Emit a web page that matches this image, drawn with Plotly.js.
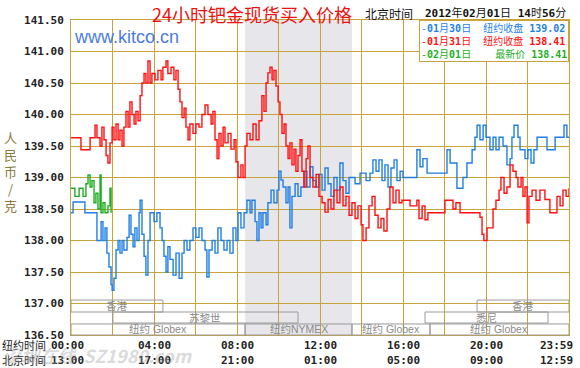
<!DOCTYPE html>
<html><head><meta charset="utf-8">
<script src="https://cdn.plot.ly/plotly-3.0.1.min.js"></script>
<style>html,body{margin:0;padding:0;background:#fff}#chart{width:580px;height:368px}</style>
</head><body><div id="chart"></div>
<script>
// ---------- DATA (hours in New York time, price in CNY/g) ----------
const blueHours = [0,0.10,0.67,1.25,1.45,1.54,1.64,1.73,1.83,1.93,
  1.98,2.07,2.17,2.27,2.36,2.46,2.55,2.70,2.80,2.89,
  2.99,3.08,3.18,3.28,3.33,3.42,3.52,3.61,3.71,3.81,
  4.00,4.14,4.29,4.39,4.48,4.58,4.67,4.77,4.92,5.06,
  5.21,5.35,5.45,5.59,5.73,5.88,6.02,6.17,6.31,6.46,
  6.55,6.65,6.80,6.94,7.08,7.23,7.37,7.52,7.66,7.81,
  7.95,8.05,8.19,8.34,8.48,8.63,8.72,8.87,8.96,9.06,
  9.16,9.25,9.40,9.49,9.64,9.78,9.93,10.02,10.12,10.22,
  10.36,10.46,10.55,10.65,10.80,10.94,11.08,11.23,11.37,11.52,
  11.66,11.81,11.95,12.10,12.24,12.39,12.53,12.67,12.82,12.96,
  13.11,13.25,13.40,13.69,13.93,14.22,14.41,14.55,14.70,14.84,
  14.99,15.13,15.28,15.42,15.57,15.71,15.86,16.00,16.67,16.82,
  16.96,17.16,18.12,18.27,18.60,18.89,19.08,19.33,19.47,19.57,
  19.71,19.86,20.00,20.19,20.34,20.48,20.63,20.82,21.01,21.16,
  21.25,21.35,21.54,21.64,21.88,22.02,22.17,22.31,22.46,22.94,
  23.33,23.76,23.90,24.00];
const blueValues = [138.44,138.61,138.44,138.00,138.30,138.00,138.20,137.80,137.58,137.30,
  137.21,137.40,137.85,138.00,137.80,138.00,137.85,138.05,138.40,138.10,
  137.90,138.20,138.00,138.44,138.64,138.10,137.75,137.45,138.00,138.44,
  138.30,138.44,138.20,138.00,137.75,137.50,137.90,137.70,137.45,137.80,
  137.40,137.80,138.00,137.85,138.00,138.20,138.05,138.20,138.00,137.85,
  137.42,137.85,138.00,137.80,138.20,138.00,137.85,138.00,137.80,138.20,
  138.00,138.44,138.20,138.44,138.64,138.44,138.64,138.30,138.00,138.44,
  138.20,138.44,138.25,138.60,138.80,138.60,138.80,139.10,138.96,138.85,
  138.60,138.85,138.20,138.70,138.90,138.70,138.85,139.10,138.85,139.17,
  138.95,138.85,139.05,138.80,139.15,138.90,138.70,139.00,138.80,139.23,
  138.95,138.75,139.00,138.90,139.07,138.95,139.07,139.28,139.10,139.28,
  138.95,139.20,138.85,139.15,139.28,138.95,139.10,139.00,139.44,139.17,
  139.30,139.07,139.44,139.23,138.83,139.00,139.23,139.44,139.64,139.83,
  139.60,139.83,139.64,139.44,139.64,139.44,139.64,139.50,139.20,139.30,
  139.64,139.83,139.64,139.44,139.30,139.44,139.23,139.44,139.64,139.44,
  139.64,139.83,139.64,139.64];

const redHours = [0,0.48,0.92,1.16,1.25,1.40,1.49,1.59,1.69,1.78,
  1.88,1.98,2.07,2.17,2.27,2.36,2.46,2.55,2.65,2.75,
  2.84,2.94,3.04,3.13,3.23,3.33,3.42,3.52,3.61,3.71,
  3.81,3.90,4.05,4.19,4.34,4.43,4.58,4.67,4.82,4.96,
  5.06,5.16,5.25,5.35,5.45,5.54,5.64,5.73,5.88,6.02,
  6.17,6.31,6.46,6.60,6.75,6.84,6.94,7.04,7.13,7.23,
  7.33,7.42,7.57,7.71,7.86,7.95,8.05,8.19,8.29,8.39,
  8.48,8.63,8.77,8.92,9.06,9.20,9.30,9.40,9.49,9.59,
  9.69,9.78,9.88,9.98,10.07,10.17,10.27,10.36,10.46,10.55,
  10.65,10.75,10.84,10.94,11.04,11.13,11.23,11.33,11.42,11.52,
  11.66,11.81,11.95,12.10,12.24,12.39,12.53,12.67,12.82,12.96,
  13.11,13.25,13.40,13.54,13.69,13.83,13.98,14.07,14.22,14.36,
  14.51,14.65,14.80,14.94,15.08,15.23,15.37,15.52,15.66,15.81,
  15.95,16.34,16.67,16.77,16.92,17.06,17.20,18.02,18.41,18.55,
  18.75,19.71,19.81,19.90,20.05,20.34,20.48,20.63,20.72,20.87,
  21.01,21.16,21.30,21.45,21.54,21.69,21.78,21.88,21.98,22.07,
  22.22,22.41,22.60,22.84,23.08,23.42,23.57,23.71,23.86,24.00];
const redValues = [139.63,139.44,139.63,139.83,139.63,139.50,139.80,139.60,139.35,139.23,
  139.55,139.80,139.60,139.85,139.60,139.75,139.50,139.80,140.05,139.80,
  140.20,140.00,139.85,140.05,139.90,140.30,140.50,140.65,140.50,140.85,
  140.50,140.65,140.55,140.70,140.55,140.75,140.85,140.65,140.75,140.55,
  140.70,140.40,140.20,139.95,140.10,139.80,139.60,139.85,139.70,139.85,
  139.80,140.00,140.15,140.00,139.85,140.05,139.60,139.30,139.70,139.50,
  139.80,139.55,139.70,139.45,139.60,139.25,139.00,139.20,139.00,139.50,
  139.70,139.60,139.85,139.60,139.90,140.30,140.05,140.50,140.66,140.75,
  140.55,140.70,140.45,140.20,140.00,139.70,139.85,139.50,139.30,139.55,
  139.20,139.45,139.10,139.35,139.60,139.10,138.85,139.30,139.50,139.00,
  138.85,139.05,138.70,138.60,138.45,138.65,138.50,138.80,138.60,138.85,
  138.55,138.70,138.40,138.60,138.35,138.55,138.25,138.00,138.20,138.55,
  138.70,138.40,138.20,138.35,138.15,138.50,138.85,138.60,138.80,138.60,
  138.64,138.55,138.64,138.35,138.55,138.33,138.44,138.64,138.50,138.60,
  138.44,138.37,138.10,138.00,138.20,138.50,138.64,138.80,139.00,138.75,
  138.85,139.20,139.10,139.00,138.85,139.00,138.70,138.85,138.28,138.70,
  138.80,138.64,138.80,138.65,138.44,138.70,138.55,138.80,138.70,138.83];

const greenHours = [0,0.19,0.39,0.58,0.72,0.82,0.92,1.01,1.11,1.20,1.30,1.40,1.45,1.54,1.64,1.78,1.88,1.93];
const greenValues = [138.83,138.70,138.83,138.70,138.90,139.04,138.85,138.95,138.60,138.75,138.50,139.04,138.44,138.60,138.44,138.55,138.83,138.44];

const legendDates = ['01月30日','01月31日','02月01日'];
const legendKinds = ['纽约收盘','纽约收盘','最新价'];
const legendPrices = [139.02, 138.41, 138.41];

const tickHours = [0,4,8,12,16,20,24];
const nyTickLabels = ['00:00','04:00','08:00','12:00','16:00','20:00','23:59'];
const bjTickLabels = ['13:00','17:00','21:00','01:00','05:00','09:00','12:59'];

const nymexSession = [8.39, 13.54];
const sessionNames = ['香港','苏黎世','纽约 Globex','纽约NYMEX','纽约 Globex','悉尼','纽约 Globex','香港'];
const sessionStart = [0, 2.02, 0, 8.39, 13.54, 17.06, 17.30, 19.57];
const sessionEnd   = [4.43, 10.94, 8.39, 13.54, 17.30, 22.99, 24, 24];
const sessionRow   = [1, 2, 3, 3, 3, 2, 3, 1];

// ---------- STYLE ----------
const GOLD = '#c9a43a';
const BLUE = '#1f7fe5', RED = '#ff1010', GREEN = '#1fae1f';
const MONO = 'DejaVu Sans Mono, Noto Sans CJK SC, monospace';
const CJK = 'Noto Sans CJK SC, sans-serif';
const seriesColors = [BLUE, RED, GREEN];

const mk = (x, y, c) => ({x, y, type:'scatter', mode:'lines', line:{color:c, width:1.4, shape:'hv'}, hoverinfo:'skip'});
const traces = [mk(blueHours, blueValues, BLUE), mk(redHours, redValues, RED), mk(greenHours, greenValues, GREEN)];

const rowBox = {1:[0.073,0.111], 2:[0.038,0.073], 3:[0,0.035]};
const shapes = [{type:'rect', xref:'x', yref:'paper', x0:nymexSession[0], x1:nymexSession[1], y0:0, y1:1,
  fillcolor:'#e7e7eb', line:{width:0}, layer:'below'}];
const annotations = [];
sessionNames.forEach((n, i) => {
  const r = rowBox[sessionRow[i]];
  shapes.push({type:'rect', xref:'x', yref:'paper', x0:sessionStart[i], x1:sessionEnd[i], y0:r[0], y1:r[1],
    line:{color:'#9a9a9a', width:1}, fillcolor:'rgba(0,0,0,0)', layer:'above'});
  annotations.push({xref:'x', yref:'paper', x:(sessionStart[i]+sessionEnd[i])/2, y:(r[0]+r[1])/2,
    text:n, showarrow:false, xanchor:'center', yanchor:'middle',
    font:{family:'Liberation Sans, Noto Sans CJK SC, sans-serif', size:10.5, color:'#8a8a8a'}});
});

tickHours.forEach((h, i) => {
  const last = i === tickHours.length - 1;
  const xs = last ? 6 : (i===0 ? -4 : 0);
  annotations.push({xref:'x', yref:'paper', x:h, y:0, yshift:-10, xshift:xs,
    text:nyTickLabels[i], showarrow:false, xanchor: last ? 'right' : 'center', yanchor:'middle',
    font:{family:MONO, size:11, color:'#222', weight:'bold'}});
  annotations.push({xref:'x', yref:'paper', x:h, y:0, yshift:-25, xshift:xs,
    text:bjTickLabels[i], showarrow:false, xanchor: last ? 'right' : 'center', yanchor:'middle',
    font:{family:MONO, size:11, color:'#222', weight:'bold'}});
});
annotations.push({xref:'paper', yref:'paper', x:0, xshift:-47, y:0, yshift:-10, text:'纽约时间', showarrow:false,
  xanchor:'center', yanchor:'middle', font:{family:CJK, size:11, color:'#222'}});
annotations.push({xref:'paper', yref:'paper', x:0, xshift:-47, y:0, yshift:-25, text:'北京时间', showarrow:false,
  xanchor:'center', yanchor:'middle', font:{family:CJK, size:11, color:'#222'}});

// chart title (top of figure)
annotations.push({xref:'paper', yref:'paper', x:0, xshift:181, y:1, yshift:20, text:'24小时钯金现货买入价格',
  showarrow:false, xanchor:'center', yanchor:'top', borderpad:0,
  font:{family:CJK, size:18, color:'#ee1111'}});

// y axis title (vertical stacked)
annotations.push({xref:'paper', yref:'paper', x:0, xshift:-61, y:0.52, text:'人<br>民<br>币<br>/<br>克',
  showarrow:false, xanchor:'center', yanchor:'middle', font:{family:CJK, size:13, color:'#8a7a3c'}});

// kitco watermark
annotations.push({xref:'paper', yref:'paper', x:0, xshift:1, y:1, yshift:-17, text:'www.kitco.cn',
  showarrow:false, xanchor:'left', yanchor:'middle', font:{family:'Liberation Sans, Arial, sans-serif', size:18, color:'#4a7be3'}});

// header time
annotations.push({xref:'paper', yref:'paper', x:0, xshift:318, y:1, yshift:7, text:'北京时间',
  showarrow:false, xanchor:'center', yanchor:'middle', font:{family:CJK, size:12, color:'#111'}});
annotations.push({xref:'paper', yref:'paper', x:1, xshift:-1, y:1, yshift:7,
  text:'<b>2012</b>年<b>02</b>月<b>01</b>日 <b>14</b>时<b>56</b>分',
  showarrow:false, xanchor:'right', yanchor:'middle', font:{family:MONO, size:11, color:'#111'}});

// legend box
const legLines = legendDates.map((d, i) => {
  const m = d.match(/(\d+)月(\d+)日/);
  const pad = legendKinds[i].length < 4 ? '\u00a0\u00a0\u00a0\u00a0' : '\u00a0\u00a0';
  return '<span style="color:' + seriesColors[i] + '">-<b>' + m[1] + '</b>月<b>' + m[2] + '</b>日' + pad +
    legendKinds[i] + ' <b>' + legendPrices[i].toFixed(2) + '</b></span>';
});
annotations.push({xref:'paper', yref:'paper', x:1, y:1, xanchor:'right', yanchor:'top', yshift:0,
  text:legLines.join('<br>'), showarrow:false, align:'left', bgcolor:'#ffffff', bordercolor:GOLD,
  borderwidth:1, borderpad:1, font:{family:MONO, size:10, color:'#000'}});

// site watermark at bottom
annotations.push({xref:'paper', yref:'paper', x:0, xshift:-70, y:0, yshift:-20, text:'<b><i>深圳在线  SZ1980.com</i></b>',
  showarrow:false, xanchor:'left', yanchor:'middle', font:{family:'Noto Sans CJK SC, sans-serif', size:18, color:'rgba(160,160,160,0.4)'}});

const layout = {
  width:580, height:368,
  margin:{l:71, r:11, t:20, b:33, pad:0},
  paper_bgcolor:'#ffffff', plot_bgcolor:'#ffffff',
  showlegend:false,
  xaxis:{range:[0,24], tick0:0, dtick:2, showticklabels:false, ticks:'', showgrid:true, gridcolor:GOLD, gridwidth:1,
    zeroline:false, showline:true, linecolor:GOLD, linewidth:1, mirror:true, automargin:false, fixedrange:true},
  yaxis:{range:[136.5,141.5], tick0:136.5, dtick:0.5, tickformat:'.2f', ticks:'', showgrid:true, gridcolor:GOLD,
    gridwidth:1, zeroline:false, showline:true, linecolor:GOLD, linewidth:1, mirror:true, automargin:false,
    ticklabelstandoff:4, tickfont:{family:MONO, size:11, color:'#222', weight:'bold'}, fixedrange:true},
  shapes, annotations
};
Plotly.newPlot('chart', traces, layout, {staticPlot:true, displayModeBar:false});
</script></body></html>
